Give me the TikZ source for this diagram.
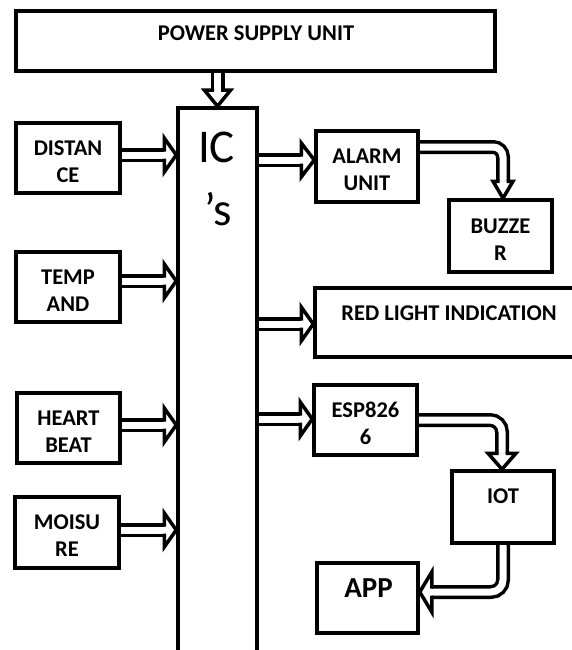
\documentclass[tikz,border=0pt]{standalone}
\usepackage{fontspec}
\setmainfont{Carlito}
\usetikzlibrary{calc}
\pgfdeclarelayer{back}
\pgfdeclarelayer{arrows}
\pgfsetlayers{back,arrows,main}
\begin{document}
\begin{tikzpicture}[x=1pt,y=-1pt,
  box/.style={draw=black, line width=3.5pt, rectangle, inner sep=0pt, align=center,
              text height=48pt, text depth=0pt,
              font=\bfseries\fontsize{22.5}{27}\selectfont},
  lbl/.style={inner sep=0pt, font=\bfseries\fontsize{22.5}{27}\selectfont},
  bigtxt/.style={inner sep=0pt, font=\fontsize{47}{50}\selectfont},
  shaft/.style={draw=black, line width=3.5pt, double=white, double distance=7pt},
  hl/.store in=\hl, hw/.store in=\hw, hl=12, hw=17,
  ahead/.pic={\filldraw[fill=white, draw=black, line width=3.5pt, line join=miter]
     (-\hl,3.5) -- (-\hl,\hw) -- (0,0) -- (-\hl,-\hw) -- (-\hl,-3.5);}
]
\path[use as bounding box] (0,0) rectangle (572,650);
\begin{pgfonlayer}{back}
  \fill[white] (0,0) rectangle (572,650);
\end{pgfonlayer}

% boxes
\node[box, minimum width=479pt, minimum height=60pt] (psu) at (255.5,41) {};
\node[lbl] (psut) at (256,33) {POWER SUPPLY UNIT};
\node[box, minimum width=79pt, minimum height=600pt] (ic) at (217.5,408) {};
\node[bigtxt, anchor=base] (ict1) at (216.5,162) {IC};
\node[bigtxt, anchor=base] (ict2) at (218,225) {’s};

\node[box, minimum width=104pt, minimum height=70pt] (dist) at (68,158) {DISTAN\\CE};
\node[box, minimum width=104pt, minimum height=70pt] (temp) at (68,287) {TEMP\\AND};
\node[box, minimum width=103pt, minimum height=70pt] (heart) at (68.5,428) {HEART\\BEAT};
\node[box, minimum width=104pt, minimum height=71pt] (mois) at (67,532.5) {MOISU\\RE};

\node[box, minimum width=102pt, minimum height=71pt] (alarm) at (367,166.5) {ALARM\\UNIT};
\node[box, minimum width=103pt, minimum height=72pt] (buzz) at (500.5,236) {BUZZE\\R};
\node[box, minimum width=285pt, minimum height=69pt] (red) at (457.5,322.5) {};
\node[lbl] (redt) at (449,313) {RED LIGHT INDICATION};
\node[box, minimum width=103pt, minimum height=70pt] (esp) at (365.5,420) {ESP826\\6};
\node[box, minimum width=102pt, minimum height=72pt] (iot) at (503,507) {};
\node[lbl] (iott) at (503,496) {IOT};
\node[box, minimum width=101pt, minimum height=70pt] (app) at (367.5,598) {};
\node[lbl, font=\bfseries\fontsize{29}{32}\selectfont] (appt) at (368.5,588) {APP};

\begin{pgfonlayer}{arrows}
% power supply -> IC
\draw[shaft] (ic.north |- psu.south) -- ($(ic.north)+(0,-16)$);
\pic[hl=16, hw=13, rotate=-90] at (ic.north) {ahead};

% sensors -> IC
\draw[shaft] ($(dist.east)+(0,-3)$) -- ($(dist.east -| ic.west)+(-12,-3)$);
\pic[hl=12, hw=17] at ($(dist.east -| ic.west)+(0,-3)$) {ahead};
\draw[shaft] ($(temp.east)+(0,-6)$) -- ($(temp.east -| ic.west)+(-12,-6)$);
\pic[hl=12, hw=17] at ($(temp.east -| ic.west)+(0,-6)$) {ahead};
\draw[shaft] ($(heart.east)+(0,-3)$) -- ($(heart.east -| ic.west)+(-12,-3)$);
\pic[hl=12, hw=17] at ($(heart.east -| ic.west)+(0,-3)$) {ahead};
\draw[shaft] ($(mois.east)+(0,-2.5)$) -- ($(mois.east -| ic.west)+(-12,-2.5)$);
\pic[hl=12, hw=17] at ($(mois.east -| ic.west)+(0,-2.5)$) {ahead};

% IC -> outputs
\draw[shaft] ($(alarm.west -| ic.east)+(0,-6.5)$) -- ($(alarm.west)+(-13,-6.5)$);
\pic[hl=13, hw=17] at ($(alarm.west)+(0,-6.5)$) {ahead};
\draw[shaft] ($(red.west -| ic.east)+(0,1.5)$) -- ($(red.west)+(-12,1.5)$);
\pic[hl=12, hw=17] at ($(red.west)+(0,1.5)$) {ahead};
\draw[shaft] ($(esp.west -| ic.east)+(0,-1)$) -- ($(esp.west)+(-12,-1)$);
\pic[hl=12, hw=17] at ($(esp.west)+(0,-1)$) {ahead};

% curved connectors
\draw[shaft, rounded corners=10pt] ($(alarm.east)+(0,-19.5)$) -| ($(buzz.north)+(2.5,-17)$);
\pic[hl=17, hw=10, rotate=-90] at ($(buzz.north)+(2.5,0)$) {ahead};
\draw[shaft, rounded corners=12pt] (esp.east) -| ($(iot.north)+(-1,-16)$);
\pic[hl=16, hw=14, rotate=-90] at ($(iot.north)+(-1,0)$) {ahead};
\draw[shaft, rounded corners=12pt] (iot.south) |- ($(app.east)+(12,-6)$);
\pic[hl=12, hw=20, rotate=180] at ($(app.east)+(0,-6)$) {ahead};
\end{pgfonlayer}
\end{tikzpicture}
\end{document}
